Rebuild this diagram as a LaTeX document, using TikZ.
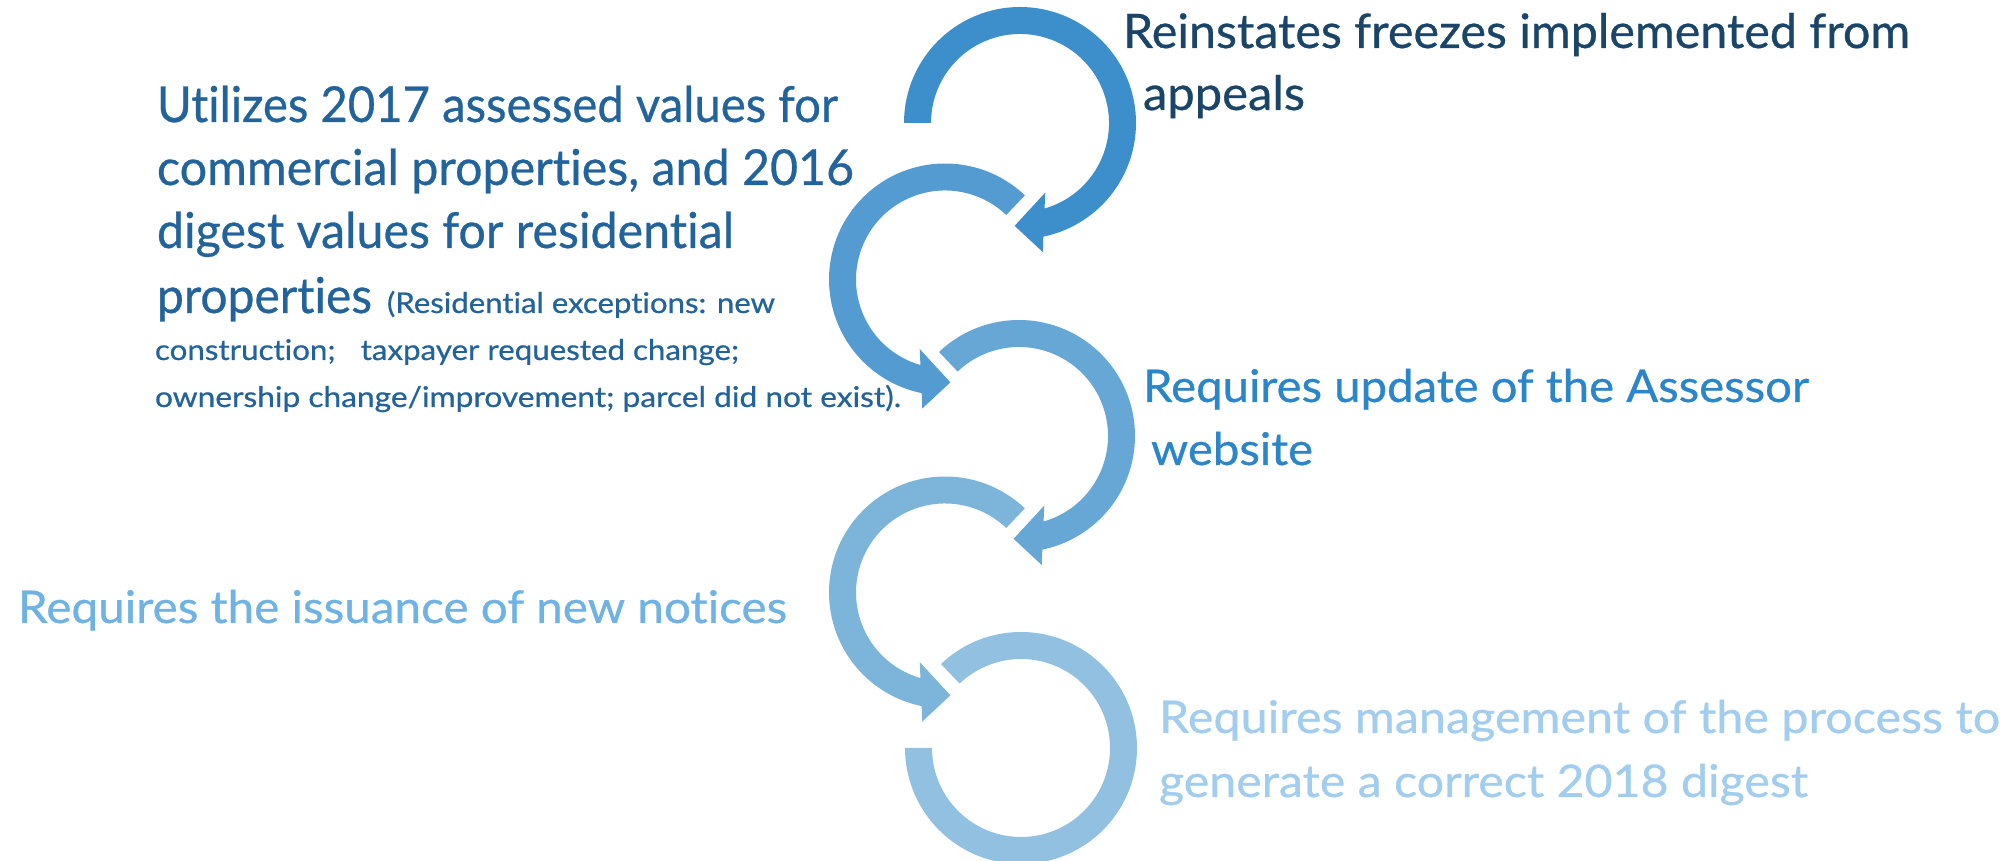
\documentclass[tikz,border=0pt]{standalone}
\usepackage{fontspec}
\setmainfont{Lato}[Ligatures=NoCommon,FakeBold=0.6]
\usepackage{graphicx}
\newsavebox\fitbox
\newlength\fitlen
\newcommand\fitto[2]{\sbox\fitbox{#2}\setlength\fitlen{\wd\fitbox}\pgfmathsetmacro\fitratio{#1/\fitlen}\scalebox{\fitratio}[1]{\usebox\fitbox}}
\newcommand\szBig{\fontsize{49.5}{52}\selectfont}
\newcommand\szA{\fontsize{47.5}{50}\selectfont}
\newcommand\szB{\fontsize{45}{50}\selectfont}
\newcommand\szSmall{\fontsize{28.5}{30}\selectfont}
\definecolor{arcA}{HTML}{3C8FCB}
\definecolor{arcB}{HTML}{539BD0}
\definecolor{arcC}{HTML}{67A7D5}
\definecolor{arcD}{HTML}{7DB4DA}
\definecolor{arcE}{HTML}{92C0E1}
\definecolor{txtA}{HTML}{1A4568}
\definecolor{txtB}{HTML}{22639B}
\definecolor{txtC}{HTML}{2B86C9}
\definecolor{txtD}{HTML}{6FB3E5}
\definecolor{txtE}{HTML}{A3CDEE}
\newcommand\cwarrow[3]{%
\fill[#3,shift={#1}] (#2:116pt) arc[start angle=#2,end angle=-78.4,radius=116pt] -- (-80:131pt) -- (-93:103pt) -- (-70:74pt) -- (-74:89pt) arc[start angle=-74,end angle=#2,radius=89pt] -- cycle;}
\newcommand\ccwarrow[3]{%
\fill[#3,shift={#1}] (#2:116pt) arc[start angle=#2,end angle=258.4,radius=116pt] -- (260:131pt) -- (273:103pt) -- (250:74pt) -- (254:89pt) arc[start angle=254,end angle=#2,radius=89pt] -- cycle;}
\tikzset{txt/.style={anchor=base west,inner sep=0pt,outer sep=0pt}}
\begin{document}
\begin{tikzpicture}[x=1pt,y=1pt]
\useasboundingbox (0,0) rectangle (2012,861);
\fill[white] (0,0) rectangle (2012,861);
\begin{scope}
\clip (0,0) rectangle (2012,861);
\cwarrow{(1020,738)}{180}{arcA}
\ccwarrow{(945,581.5)}{46.5}{arcB}
\cwarrow{(1019,425)}{133.6}{arcC}
\ccwarrow{(945,268.5)}{46.5}{arcD}
\fill[arcE,shift={(1021,113)}] (133.6:116pt) arc[start angle=133.6,end angle=-180,radius=116pt] -- (-180:89pt) arc[start angle=-180,end angle=133.6,radius=89pt] -- cycle;
\end{scope}
% Reinstates
\node[txt,text=txtA] (r1) at (1123,813) {\szA\fitto{787}{Reinstates freezes implemented from}};
\node[txt,text=txtA] (r2) at (1143,751) {\szA\fitto{162}{appeals}};
% Utilizes
\node[txt,text=txtB] (u1) at (157,739) {\szBig\fitto{681}{Utilizes 2017 assessed values for}};
\node[txt,text=txtB] (u2) at (157,676) {\szBig\fitto{697}{commercial properties, and 2016}};
\node[txt,text=txtB] (u3) at (157,613) {\szBig\fitto{577}{digest values for residential}};
\node[txt,text=txtB] (u4) at (157,548) {\szBig\fitto{215}{properties}};
\node[txt,text=txtB] (u4b) at (387,548) {\szSmall\fitto{388}{(Residential exceptions: new}};
\node[txt,text=txtB] (u5) at (155,501) {\szSmall\fitto{584}{construction;\hspace{0.8em}taxpayer requested change;}};
\node[txt,text=txtB] (u6) at (155,454) {\szSmall\fitto{746}{ownership change/improvement; parcel did not exist).}};
% Requires update
\node[txt,text=txtC] (a1) at (1143,459) {\szB\fitto{666}{Requires update of the Assessor}};
\node[txt,text=txtC] (a2) at (1151,396) {\szB\fitto{162}{website}};
% Requires issuance
\node[txt,text=txtD] (n1) at (18,238) {\szB\fitto{769}{Requires the issuance of new notices}};
% Requires management
\node[txt,text=txtE] (m1) at (1159,128) {\szB\fitto{841}{Requires management of the process to}};
\node[txt,text=txtE] (m2) at (1159,64) {\szB\fitto{649}{generate a correct 2018 digest}};
\end{tikzpicture}
\end{document}
